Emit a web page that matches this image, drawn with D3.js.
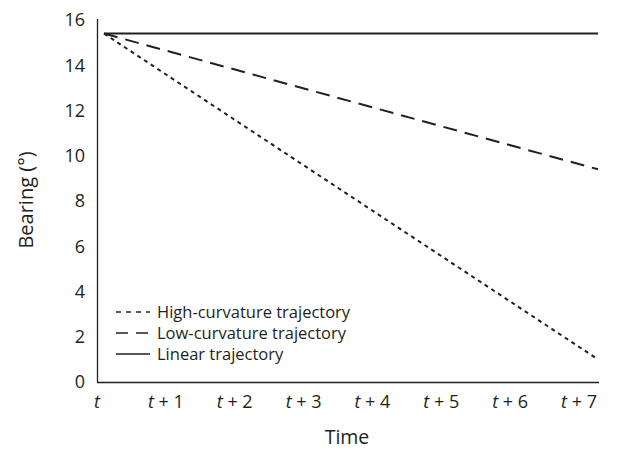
<!DOCTYPE html>
<html><head><meta charset="utf-8">
<script src="https://cdn.jsdelivr.net/npm/d3@7"></script>
<style>body{margin:0;background:#fff}svg text{font-family:"Open Sans",sans-serif;fill:#231f20}</style>
</head><body><svg id="c" width="634" height="452"></svg>
<script>
const timeLabels = ["t","t + 1","t + 2","t + 3","t + 4","t + 5","t + 6","t + 7"];
const yTicks = [0,2,4,6,8,10,12,14,16];
const seriesNames = ["High-curvature trajectory","Low-curvature trajectory","Linear trajectory"];
const highCurvature = [[0,15.4],[7,1.0]];
const lowCurvature = [[0,15.4],[7,9.4]];
const linear = [[0,15.4],[7,15.4]];
const dashes = ["4,4","14,8",null];

const svg = d3.select("#c");
const y = d3.scaleLinear().domain([0,16]).range([382,20]);
const xLab = d3.scalePoint().domain(timeLabels).range([97,579]);
const x = d3.scaleLinear().domain([0,7]).range([104,598]);

svg.append("line").attr("x1",97.5).attr("x2",97.5).attr("y1",19).attr("y2",382.5).attr("stroke","#231f20").attr("stroke-width",1.3);
svg.append("line").attr("x1",97).attr("x2",599).attr("y1",382.5).attr("y2",382.5).attr("stroke","#231f20").attr("stroke-width",1.3);

svg.append("g").selectAll("text").data(yTicks).join("text")
  .attr("x",85).attr("y",d=>y(d)).attr("dy","0.36em").attr("text-anchor","end")
  .attr("font-size",18).text(d=>d);

const xt = svg.append("g").selectAll("text").data(timeLabels).join("text")
  .attr("x",d=>xLab(d)).attr("y",408).attr("text-anchor","middle").attr("font-size",18);
xt.each(function(d){
  const parts = d.split(" + ");
  const t = d3.select(this);
  t.append("tspan").attr("font-style","italic").text(parts[0]);
  if(parts.length>1){ t.append("tspan").text(" + "+parts[1]); }
});

svg.append("text").attr("x",347).attr("y",444).attr("text-anchor","middle").attr("font-size",19.5).text("Time");
svg.append("text").attr("transform","translate(33,200) rotate(-90)").attr("text-anchor","middle").attr("font-size",20).text("Bearing (°)");

const line = d3.line().x(d=>x(d[0])).y(d=>y(d[1]));
const allSeries = [highCurvature, lowCurvature, linear];
svg.append("g").selectAll("path").data(allSeries).join("path")
  .attr("d",line).attr("fill","none").attr("stroke","#231f20").attr("stroke-width",2)
  .attr("stroke-dasharray",(d,i)=>dashes[i]);

const lg = svg.append("g").selectAll("g").data(seriesNames).join("g")
  .attr("transform",(d,i)=>`translate(116,${312+i*21})`);
lg.append("line").attr("x1",0).attr("x2",34).attr("y1",0).attr("y2",0)
  .attr("stroke","#231f20").attr("stroke-width",1.6).attr("stroke-dasharray",(d,i)=>i===0?"5,5":(i===1?"12,8":null));
lg.append("text").attr("x",41).attr("y",0).attr("dy","0.36em").attr("font-size",16.5).text(d=>d);
</script></body></html>
